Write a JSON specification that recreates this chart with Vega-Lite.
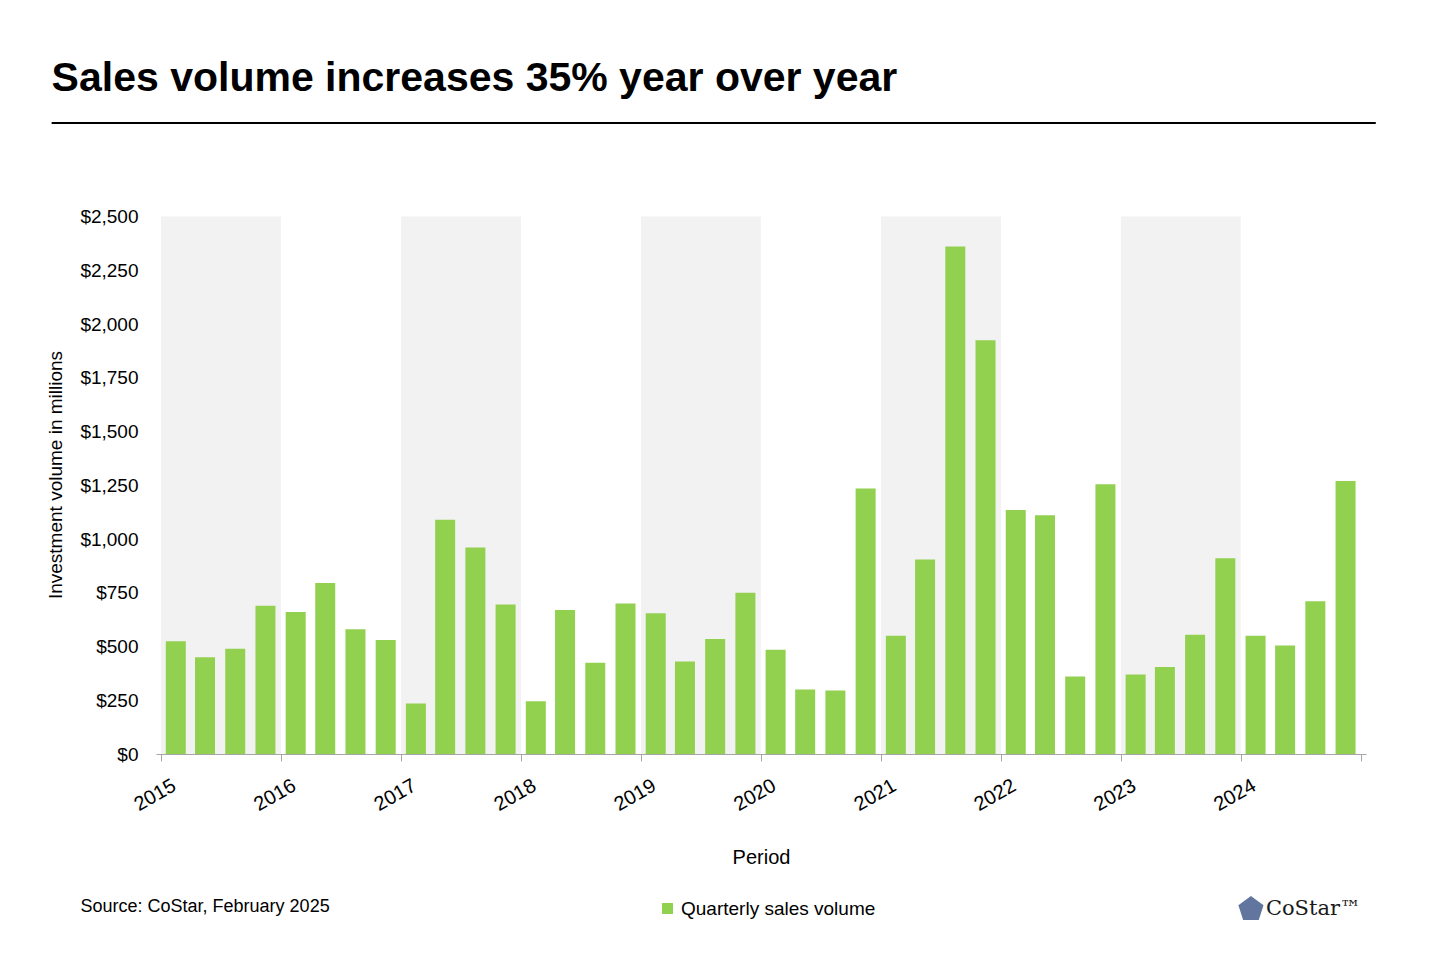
{
  "$schema": "https://vega.github.io/schema/vega-lite/v6.json",
  "background": "white",
  "autosize": "none",
  "padding": {"left": 156, "top": 195, "right": 74, "bottom": 206},
  "width": 1210,
  "height": 559,
  "config": {"font": "Liberation Sans", "view": {"stroke": null}},
  "datasets": {
    "bars": [
      {"d": "2015-02-15", "v": 525}, {"d": "2015-05-15", "v": 450}, {"d": "2015-08-15", "v": 490}, {"d": "2015-11-15", "v": 690},
      {"d": "2016-02-15", "v": 660}, {"d": "2016-05-15", "v": 795}, {"d": "2016-08-15", "v": 580}, {"d": "2016-11-15", "v": 530},
      {"d": "2017-02-15", "v": 235}, {"d": "2017-05-15", "v": 1090}, {"d": "2017-08-15", "v": 960}, {"d": "2017-11-15", "v": 695},
      {"d": "2018-02-15", "v": 245}, {"d": "2018-05-15", "v": 670}, {"d": "2018-08-15", "v": 425}, {"d": "2018-11-15", "v": 700},
      {"d": "2019-02-15", "v": 655}, {"d": "2019-05-15", "v": 430}, {"d": "2019-08-15", "v": 535}, {"d": "2019-11-15", "v": 750},
      {"d": "2020-02-15", "v": 485}, {"d": "2020-05-15", "v": 300}, {"d": "2020-08-15", "v": 295}, {"d": "2020-11-15", "v": 1235},
      {"d": "2021-02-15", "v": 550}, {"d": "2021-05-15", "v": 905}, {"d": "2021-08-15", "v": 2360}, {"d": "2021-11-15", "v": 1925},
      {"d": "2022-02-15", "v": 1135}, {"d": "2022-05-15", "v": 1110}, {"d": "2022-08-15", "v": 360}, {"d": "2022-11-15", "v": 1255},
      {"d": "2023-02-15", "v": 370}, {"d": "2023-05-15", "v": 405}, {"d": "2023-08-15", "v": 555}, {"d": "2023-11-15", "v": 910},
      {"d": "2024-02-15", "v": 550}, {"d": "2024-05-15", "v": 505}, {"d": "2024-08-15", "v": 710}, {"d": "2024-11-15", "v": 1270}
    ],
    "bands": [
      {"s": "2015-01-01", "e": "2016-01-01"}, {"s": "2017-01-01", "e": "2018-01-01"},
      {"s": "2019-01-01", "e": "2020-01-01"}, {"s": "2021-01-01", "e": "2022-01-01"},
      {"s": "2023-01-01", "e": "2024-01-01"}
    ]
  },
  "layer": [
    {
      "data": {"name": "bands"},
      "mark": {"type": "rect", "color": "#f2f2f2"},
      "encoding": {
        "x": {"field": "s", "type": "temporal"},
        "x2": {"field": "e"},
        "y": {"datum": 0, "type": "quantitative"},
        "y2": {"datum": 2500}
      }
    },
    {
      "data": {"values": [{}]},
      "mark": {"type": "rule", "color": "black", "strokeWidth": 2, "clip": false},
      "encoding": {
        "x": {"datum": {"year": 2014, "month": 2, "date": 2}, "type": "temporal"},
        "x2": {"datum": {"year": 2025, "month": 2, "date": 15}},
        "y": {"datum": 2935, "type": "quantitative"}
      }
    },
    {
      "data": {"values": [{}]},
      "mark": {"type": "text", "text": "Sales volume increases 35% year over year", "fontSize": 41, "fontWeight": "bold", "color": "#000", "align": "left", "baseline": "alphabetic", "clip": false},
      "encoding": {
        "x": {"datum": {"year": 2014, "month": 2, "date": 2}, "type": "temporal"},
        "y": {"datum": 3082, "type": "quantitative"}
      }
    },
    {
      "data": {"values": [{}]},
      "mark": {"type": "text", "text": "CoStar™", "font": "DejaVu Serif", "fontSize": 21, "color": "#1a1a1a", "align": "right", "baseline": "middle", "clip": false},
      "encoding": {
        "x": {"datum": {"year": 2025, "month": 1, "date": 1}, "type": "temporal"},
        "y": {"datum": -722, "type": "quantitative"}
      }
    },
    {
      "data": {"values": [{}]},
      "mark": {"type": "point", "shape": "M0,-1L0.95,-0.31L0.59,0.81L-0.59,0.81L-0.95,-0.31Z", "filled": true, "size": 700, "color": "#1f3a75", "clip": false},
      "encoding": {
        "x": {"datum": {"year": 2024, "month": 2, "date": 1}, "type": "temporal"},
        "y": {"datum": -722, "type": "quantitative"}
      }
    },
    {
      "data": {"name": "bars"},
      "mark": {"type": "bar", "width": 20},
      "encoding": {
        "x": {
          "field": "d", "type": "temporal", "title": "Period",
          "scale": {"domain": ["2015-01-01", "2025-01-01"]},
          "axis": {
            "values": ["2015-01-01", "2016-01-01", "2017-01-01", "2018-01-01", "2019-01-01", "2020-01-01", "2021-01-01", "2022-01-01", "2023-01-01", "2024-01-01", "2025-01-01"],
            "format": "%Y", "labelExpr": "year(datum.value) == 2025 ? '' : datum.label",
            "labelAngle": -30, "labelAlign": "right", "labelBaseline": "top", "labelPadding": 14, "labelOffset": 8,
            "labelFontSize": 20, "labelColor": "#000", "domainColor": "#a6a6a6", "tickColor": "#a6a6a6", "tickSize": 7,
            "grid": false, "titleFontSize": 20, "titleFontWeight": "normal", "titleColor": "#000", "titlePadding": 33
          }
        },
        "y": {
          "field": "v", "type": "quantitative", "title": "Investment volume in millions",
          "scale": {"domain": [0, 2500]},
          "axis": {
            "values": [0, 250, 500, 750, 1000, 1250, 1500, 1750, 2000, 2250, 2500],
            "format": "$,.0f", "labelFontSize": 19, "labelColor": "#000", "domain": false, "ticks": false,
            "labelPadding": 18, "gridColor": "#e3e3e3", "titleFontSize": 19, "titleFontWeight": "normal", "titleColor": "#000", "titlePadding": 14
          }
        },
        "color": {
          "datum": "Quarterly sales volume", "type": "nominal",
          "scale": {"range": ["#92d050"]},
          "legend": {"title": null, "orient": "none", "legendX": 502, "legendY": 704, "direction": "horizontal", "labelFontSize": 19, "labelColor": "#000", "labelLimit": 400, "symbolType": "square", "symbolSize": 120}
        }
      }
    },
    {
      "data": {"values": [{}]},
      "mark": {"type": "text", "text": "Source: CoStar, February 2025", "fontSize": 18, "color": "#000", "align": "left", "baseline": "middle", "clip": false},
      "encoding": {
        "x": {"datum": {"year": 2014, "month": 5, "date": 1}, "type": "temporal"},
        "y": {"datum": -713, "type": "quantitative"}
      }
    }
  ]
}
